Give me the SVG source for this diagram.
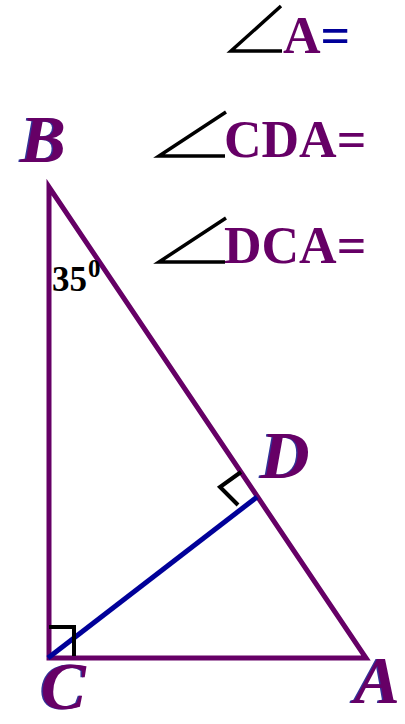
<svg xmlns="http://www.w3.org/2000/svg" width="405" height="724" viewBox="0 0 405 724">
<style>
.tri{fill:none;stroke:#660066;stroke-width:5;stroke-linejoin:miter}
.alt{stroke:#000099;stroke-width:5;fill:none}
.mark{fill:none;stroke:#000;stroke-width:4;stroke-linejoin:miter}
.ang{fill:none;stroke:#000;stroke-width:3.5;stroke-linejoin:miter}
.lbl{font-family:"Liberation Serif","Times New Roman",serif;font-weight:bold;font-style:italic;font-size:68px;fill:#660066}
.sh{fill:#333399}
.eq{font-family:"Liberation Serif","Times New Roman",serif;font-weight:bold;font-size:52px;fill:#660066}
.num{font-family:"Liberation Serif","Times New Roman",serif;font-weight:bold;fill:#000}
</style>
<g id="connectors">
<polygon class="tri" points="49,187 49,658 366,658"/>
<line class="alt" x1="48" y1="658" x2="257" y2="497"/>
</g>
<g id="marks">
<polyline class="mark" points="49,627 74,627 74,656"/>
<polyline class="mark" points="241,472 220,487 238,505"/>
</g>
<g id="nodeB"><text class="lbl sh" x="19" y="162">B</text><text class="lbl" x="20.5" y="162">B</text></g>
<g id="nodeC"><text class="lbl sh" x="39" y="709" font-size="66">C</text><text class="lbl" x="40.5" y="709" font-size="66">C</text></g>
<g id="nodeA"><text class="lbl sh" x="353" y="703">A</text><text class="lbl" x="354.5" y="703">A</text></g>
<g id="nodeD"><text class="lbl sh" x="259" y="478">D</text><text class="lbl" x="260.5" y="478">D</text></g>
<g id="angle35"><text class="num" x="52" y="291" font-size="35">35</text><text class="num" x="88" y="277" font-size="25">0</text></g>
<g id="q1">
<polyline class="ang" points="281,6 231,51 282,51"/>
<text class="eq" x="283" y="53">A<tspan fill="#000099">=</tspan></text>
</g>
<g id="q2">
<polyline class="ang" points="226,112 159,156 225,156"/>
<text class="eq" x="224" y="157">CDA=</text>
</g>
<g id="q3">
<polyline class="ang" points="226,218 159,262 225,262"/>
<text class="eq" x="224" y="263">DCA=</text>
</g>
</svg>
